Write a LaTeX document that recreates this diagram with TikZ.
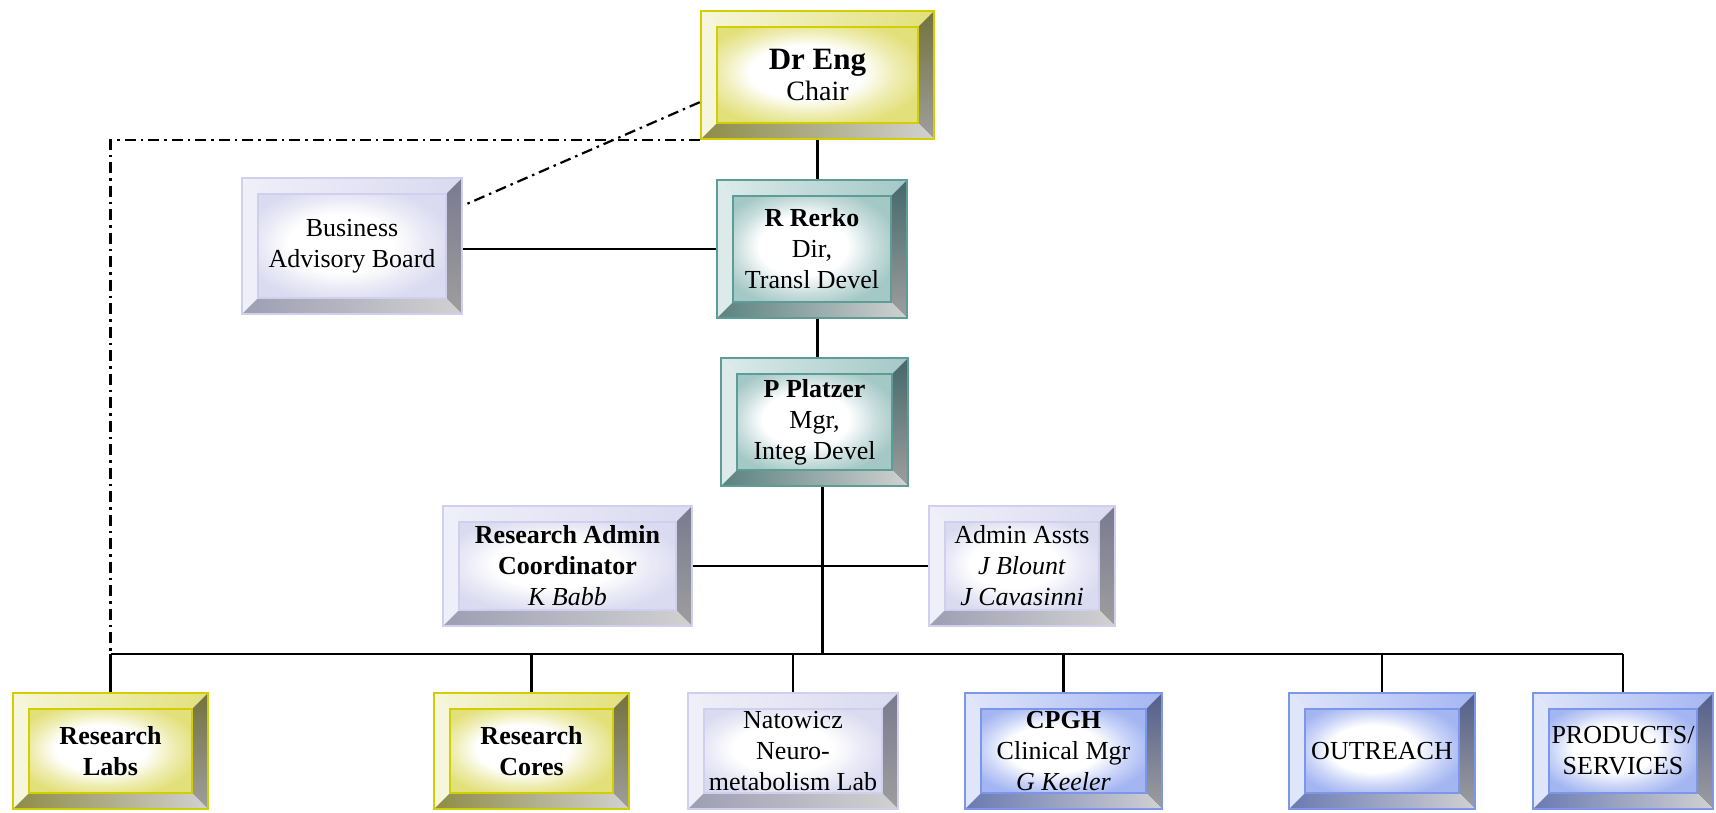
\documentclass[tikz,border=0pt]{standalone}
\usepackage{fontspec}
\setmainfont{Liberation Serif}
\usetikzlibrary{calc}

% box colours: border, face, light bevel, dark bevel, bottom bevel
\definecolor{yel}{HTML}{D2CE00}
\definecolor{yelface}{HTML}{E2E07A}
\definecolor{yellight}{HTML}{F6F6DC}
\definecolor{yeldark}{HTML}{74723C}
\definecolor{yelbot}{HTML}{8E8C46}
\definecolor{sea}{HTML}{5E9C98}
\definecolor{seaface}{HTML}{A4C8C6}
\definecolor{sealight}{HTML}{DCEBEA}
\definecolor{seadark}{HTML}{44686A}
\definecolor{seabot}{HTML}{5A8280}
\definecolor{lav}{HTML}{D0D0EE}
\definecolor{lavface}{HTML}{DADAF0}
\definecolor{lavlight}{HTML}{EFEFF9}
\definecolor{lavdark}{HTML}{7A7A90}
\definecolor{lavbot}{HTML}{9E9EB4}
\definecolor{blu}{HTML}{7C96EA}
\definecolor{bluface}{HTML}{A4B6F2}
\definecolor{blulight}{HTML}{E0E6FA}
\definecolor{bludark}{HTML}{525F8C}
\definecolor{blubot}{HTML}{6A7AB2}
\colorlet{facetint}{yelface}

\pgfdeclareradialshading[facetint]{facesh}{\pgfpoint{-4bp}{2bp}}{%
  color(0bp)=(white); color(14bp)=(white); color(22bp)=(facetint!60!white);
  color(29bp)=(facetint); color(50bp)=(facetint)}

\newcommand{\bevw}{16pt}

\tikzset{
  bevel/.style={draw=#1, line width=2.5pt, inner sep=0pt, align=center,
    path picture={
      \coordinate (sw) at (path picture bounding box.south west);
      \coordinate (ne) at (path picture bounding box.north east);
      \coordinate (nw) at (path picture bounding box.north west);
      \coordinate (se) at (path picture bounding box.south east);
      % four bevel sides
      \shade[left color=#1light, right color=#1face] (nw) -- (ne)
        -- ([shift={(-\bevw,-\bevw)}]ne) -- ([shift={(\bevw,-\bevw)}]nw) -- cycle;
      \fill[#1light] (sw) -- (nw) -- ([shift={(\bevw,-\bevw)}]nw)
        -- ([shift={(\bevw,\bevw)}]sw) -- cycle;
      \shade[top color=#1dark, bottom color=black!38] (ne) -- (se)
        -- ([shift={(-\bevw,\bevw)}]se) -- ([shift={(-\bevw,-\bevw)}]ne) -- cycle;
      \shade[left color=#1bot, right color=black!18] (sw) -- (se)
        -- ([shift={(-\bevw,\bevw)}]se) -- ([shift={(\bevw,\bevw)}]sw) -- cycle;
      % face
      \colorlet{facetint}{#1face}
      \shade[shading=facesh]
        ([shift={(\bevw,\bevw)}]sw) rectangle ([shift={(-\bevw,-\bevw)}]ne);
      \draw[#1, line width=1.6pt]
        ([shift={(\bevw,\bevw)}]sw) rectangle ([shift={(-\bevw,-\bevw)}]ne);
    }}
}
\tikzstyle{link}=[draw, line width=2.6pt]
\tikzstyle{dotlink}=[draw, line width=2.2pt, dash pattern=on 11pt off 5pt on 2.5pt off 5pt]

\begin{document}
\begin{tikzpicture}[x=1pt, y=-1pt, font=\fontsize{26}{31}\selectfont]
\useasboundingbox (0,0) rectangle (1716,812);

% First the boxes
\foreach \pos/\name/\col/\w/\h/\txt in {
    {(817.5,75)/chair/yel/233/128/{{\fontsize{31}{34}\selectfont\bfseries Dr Eng}\\{\fontsize{28}{31}\selectfont Chair}}},
    {(352,246)/bab/lav/220/136/{Business\\Advisory Board}},
    {(812,249)/rerko/sea/190/138/{\textbf{R Rerko}\\Dir,\\Transl Devel}},
    {(814.5,422)/platzer/sea/187/128/{\textbf{P Platzer}\\Mgr,\\Integ Devel}},
    {(567.5,566)/radmin/lav/249/120/{\textbf{Research Admin}\\\textbf{Coordinator}\\\textit{K Babb}}},
    {(1022,566)/assts/lav/186/120/{Admin Assts\\\textit{J Blount}\\\textit{J Cavasinni}}},
    {(110.5,751)/labs/yel/195/116/{\textbf{Research}\\\textbf{Labs}}},
    {(531.5,751)/cores/yel/195/116/{\textbf{Research}\\\textbf{Cores}}},
    {(793,751)/natowicz/lav/210/116/{Natowicz\\Neuro-\\metabolism Lab}},
    {(1063.5,751)/cpgh/blu/197/116/{\textbf{CPGH}\\Clinical Mgr\\\textit{G Keeler}}},
    {(1382,751)/outreach/blu/186/116/{OUTREACH}},
    {(1623,751)/products/blu/180/116/{PRODUCTS/\\SERVICES}}}
  \node[bevel=\col, minimum width=\w pt, minimum height=\h pt] (\name) at \pos {\txt};

% Then the solid links
\coordinate (bus) at (0,654);
\path[link] (chair.south) -- (chair.south |- rerko.north);
\path[link] (chair.south |- rerko.south) -- (chair.south |- platzer.north);
\path[link] (bab.east |- rerko.west) -- (rerko.west);
\path[link] (radmin.east) -- (assts.west);
\path[link] ([xshift=8pt]platzer.south) -- ([xshift=8pt]platzer.south |- bus);
\path[link] (labs.north |- bus) -- (products.north |- bus);
\foreach \dest in {labs, cores, natowicz, cpgh, outreach, products}
  \path[link] (\dest.north |- bus) -- (\dest.north);

% Dash-dot links to the chair
\path[dotlink] (chair.south west) -| (labs.north |- bus);
\path[dotlink] (chair.193) -- (bab.20);
\end{tikzpicture}
\end{document}
